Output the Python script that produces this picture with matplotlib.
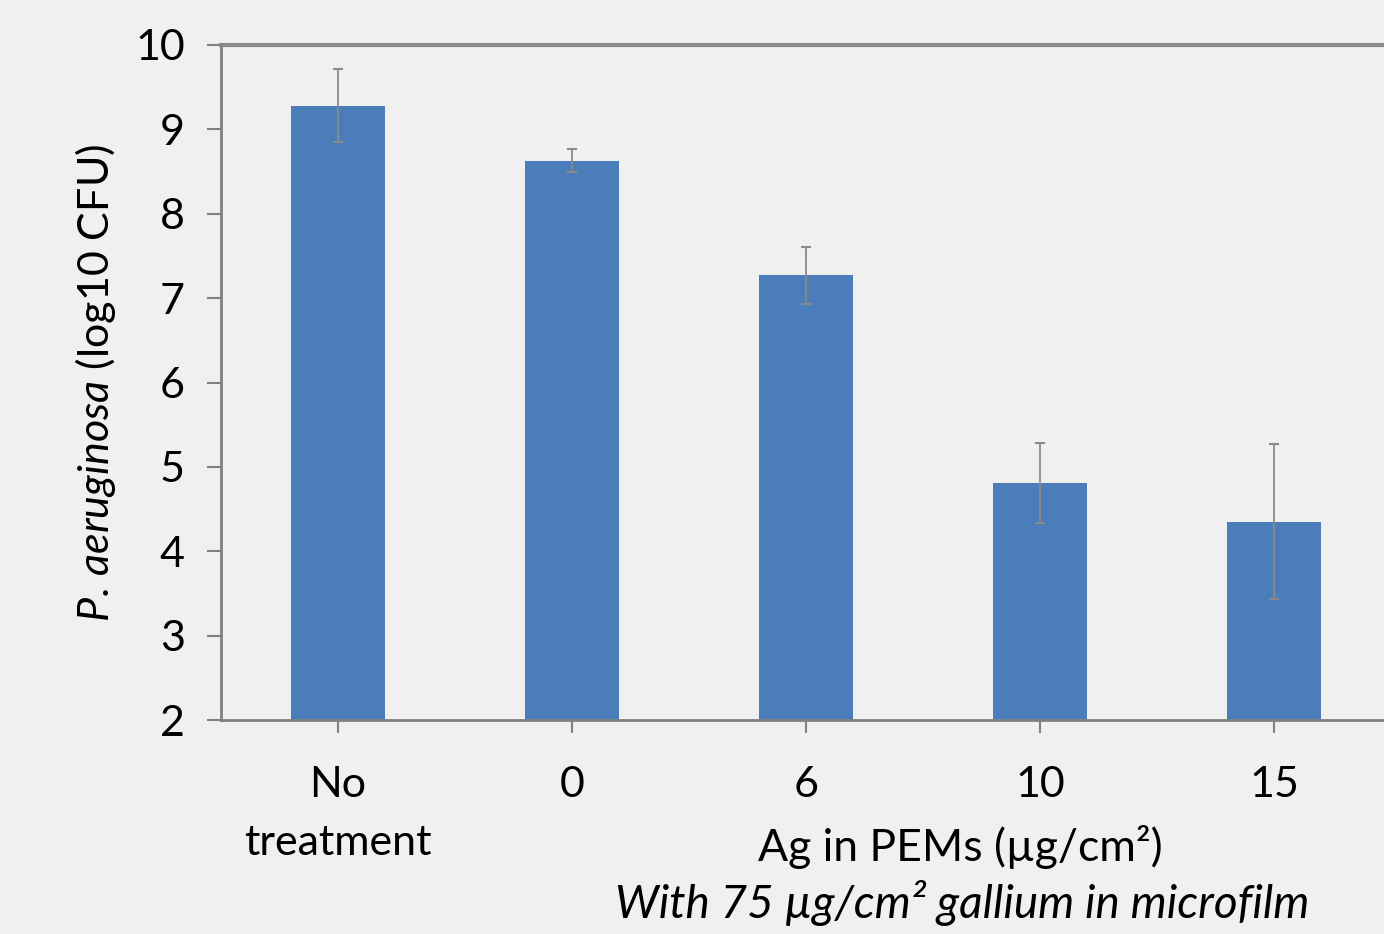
import matplotlib
matplotlib.use("Agg")
import matplotlib.pyplot as plt

# data
groups = ["No\ntreatment", "0", "6", "10", "15"]
cfu_log = [9.28, 8.63, 7.27, 4.81, 4.35]
cfu_err = [0.43, 0.14, 0.34, 0.47, 0.92]
y_ticks = [2, 3, 4, 5, 6, 7, 8, 9, 10]

plt.rcParams['font.family'] = ['Lato', 'DejaVu Sans']
plt.rcParams['mathtext.fontset'] = 'custom'
plt.rcParams['mathtext.it'] = 'Lato:italic'
plt.rcParams['mathtext.rm'] = 'Lato'

bg = '#f0f0f0'
fig = plt.figure(figsize=(13.84, 9.34), dpi=100, facecolor=bg)
ax = fig.add_axes([221/1384, 1-720/934, (1391-221)/1384, (720-45)/934])
ax.set_facecolor(bg)

x = range(len(groups))
ax.bar(x, cfu_log, width=0.4, color='#4a7dba', zorder=2)
ax.errorbar(x, cfu_log, yerr=cfu_err, fmt='none', ecolor='#8a8a8a',
            elinewidth=1.3, capsize=3.5, capthick=1.5, zorder=3)

ax.set_xlim(-0.5, 4.5)
ax.set_ylim(2, 10)
ax.set_yticks(y_ticks)
ax.set_xticks(list(x))
ax.set_xticklabels(groups, fontsize=31, linespacing=1.65)
ax.tick_params(axis='y', labelsize=31, length=10, width=1.5, color='#808080', pad=16)
ax.tick_params(axis='x', length=9, width=1.5, color='#808080', pad=24)

for s in ['left', 'bottom']:
    ax.spines[s].set_color('#808080')
    ax.spines[s].set_linewidth(2)
ax.spines['top'].set_color('#8a8a8a')
ax.spines['top'].set_linewidth(3)
ax.spines['right'].set_visible(False)

ax.set_ylabel(r'$\mathit{P.\,aeruginosa}$ (log10 CFU)', fontsize=31, labelpad=12)

fig.text(960/1384, 1-847/934, 'Ag in PEMs (µg/cm²)', fontsize=32,
         ha='center', va='center')
fig.text(962/1384, 1-903/934, 'With 75 µg/cm² gallium in microfilm', fontsize=33,
         style='italic', ha='center', va='center')

fig.savefig('out.png', dpi=100, facecolor=bg)
